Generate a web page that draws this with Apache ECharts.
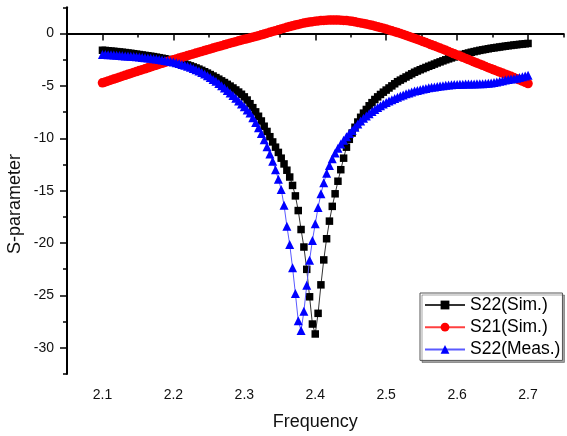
<!DOCTYPE html>
<html>
<head>
<meta charset="utf-8">
<script src="https://cdn.jsdelivr.net/npm/echarts@6/dist/echarts.min.js"></script>
<style>
html,body{margin:0;padding:0;background:#fff;}
#chart{width:567px;height:436px;}
</style>
</head>
<body>
<div id="chart"></div>
<script>
// Frequency sampling grid (GHz): 2.1 .. 2.7, step 0.004
var freqStart = 2.1;
var freqStep = 0.004;
var freqCount = 151;

var seriesNames = ['S22(Sim.)', 'S21(Sim.)', 'S22(Meas.)'];

var s22Sim = [
-1.60,-1.62,-1.65,-1.68,-1.70,-1.73,-1.76,-1.79,-1.82,-1.86,
-1.89,-1.93,-1.97,-2.01,-2.05,-2.09,-2.13,-2.17,-2.21,-2.26,
-2.31,-2.36,-2.41,-2.47,-2.53,-2.60,-2.67,-2.75,-2.83,-2.91,
-3.00,-3.09,-3.19,-3.29,-3.40,-3.52,-3.65,-3.78,-3.92,-4.06,
-4.21,-4.36,-4.52,-4.68,-4.85,-5.02,-5.20,-5.39,-5.59,-5.80,
-6.05,-6.35,-6.70,-7.08,-7.48,-7.90,-8.35,-8.85,-9.35,-9.85,
-10.35,-10.85,-11.35,-11.90,-12.45,-13.05,-13.70,-14.50,-15.50,-16.90,
-18.71,-20.38,-22.51,-25.13,-27.73,-28.68,-26.71,-23.99,-21.61,-19.59,
-17.91,-16.50,-15.30,-14.10,-13.00,-11.90,-10.85,-10.10,-9.50,-8.95,
-8.45,-8.00,-7.60,-7.25,-6.90,-6.60,-6.30,-6.05,-5.82,-5.60,
-5.40,-5.20,-5.00,-4.80,-4.60,-4.45,-4.30,-4.15,-4.00,-3.85,
-3.70,-3.58,-3.46,-3.35,-3.24,-3.13,-3.03,-2.92,-2.81,-2.71,
-2.61,-2.51,-2.42,-2.33,-2.24,-2.16,-2.08,-2.00,-1.93,-1.86,
-1.79,-1.73,-1.67,-1.61,-1.56,-1.51,-1.46,-1.41,-1.37,-1.33,
-1.29,-1.25,-1.21,-1.17,-1.14,-1.10,-1.07,-1.04,-1.01,-0.98,
-0.95
];

var s21Sim = [
-4.71,-4.62,-4.53,-4.44,-4.35,-4.26,-4.17,-4.08,-3.99,-3.90,
-3.81,-3.72,-3.63,-3.54,-3.46,-3.37,-3.28,-3.19,-3.10,-3.02,
-2.93,-2.85,-2.76,-2.68,-2.59,-2.51,-2.43,-2.35,-2.27,-2.19,
-2.11,-2.03,-1.95,-1.87,-1.79,-1.71,-1.63,-1.55,-1.47,-1.39,
-1.31,-1.23,-1.16,-1.08,-1.00,-0.93,-0.85,-0.78,-0.70,-0.63,
-0.56,-0.49,-0.42,-0.35,-0.28,-0.21,-0.13,-0.05,0.03,0.11,
0.19,0.27,0.35,0.43,0.51,0.59,0.66,0.73,0.80,0.87,
0.93,0.99,1.04,1.09,1.13,1.17,1.20,1.23,1.25,1.27,
1.28,1.285,1.285,1.28,1.27,1.25,1.23,1.20,1.16,1.11,
1.06,1.01,0.96,0.90,0.84,0.78,0.71,0.64,0.57,0.50,
0.42,0.34,0.26,0.17,0.09,0.00,-0.09,-0.19,-0.28,-0.38,
-0.47,-0.57,-0.67,-0.77,-0.87,-0.97,-1.08,-1.18,-1.29,-1.39,
-1.50,-1.61,-1.72,-1.83,-1.94,-2.05,-2.16,-2.27,-2.38,-2.49,
-2.60,-2.71,-2.82,-2.93,-3.04,-3.15,-3.26,-3.36,-3.47,-3.57,
-3.68,-3.78,-3.88,-3.99,-4.09,-4.20,-4.31,-4.42,-4.54,-4.66,
-4.78
];

var s22Meas = [
-2.00,-2.01,-2.03,-2.04,-2.06,-2.08,-2.10,-2.12,-2.14,-2.16,
-2.18,-2.20,-2.22,-2.25,-2.28,-2.31,-2.34,-2.37,-2.40,-2.44,
-2.48,-2.52,-2.57,-2.62,-2.67,-2.73,-2.80,-2.87,-2.95,-3.03,
-3.12,-3.22,-3.33,-3.45,-3.58,-3.72,-3.87,-4.03,-4.20,-4.38,
-4.57,-4.77,-4.98,-5.20,-5.43,-5.67,-5.92,-6.18,-6.45,-6.72,
-7.00,-7.30,-7.60,-8.05,-8.50,-9.00,-9.55,-10.15,-10.80,-11.50,
-12.20,-13.00,-13.90,-14.90,-16.40,-18.39,-20.13,-22.35,-24.81,-27.41,
-28.36,-26.52,-24.03,-21.65,-19.75,-18.17,-16.60,-15.30,-14.25,-13.35,
-12.60,-11.95,-11.40,-10.95,-10.55,-10.20,-9.85,-9.55,-9.25,-8.95,
-8.65,-8.35,-8.10,-7.88,-7.66,-7.45,-7.25,-7.06,-6.90,-6.74,
-6.59,-6.45,-6.32,-6.20,-6.08,-5.97,-5.86,-5.76,-5.67,-5.58,
-5.50,-5.43,-5.36,-5.30,-5.24,-5.19,-5.14,-5.10,-5.06,-5.02,
-4.98,-4.95,-4.92,-4.90,-4.88,-4.86,-4.85,-4.84,-4.83,-4.82,
-4.82,-4.81,-4.80,-4.80,-4.79,-4.77,-4.75,-4.72,-4.68,-4.63,
-4.57,-4.50,-4.44,-4.39,-4.35,-4.31,-4.26,-4.20,-4.13,-4.06,
-3.98
];

var xMajorTicks = [2.1, 2.2, 2.3, 2.4, 2.5, 2.6, 2.7];
var xMinorTicks = [2.05, 2.15, 2.25, 2.35, 2.45, 2.55, 2.65, 2.75];
var yMajorTicks = [-30, -25, -20, -15, -10, -5, 0];
var yMinorTicks = [-32.5, -27.5, -22.5, -17.5, -12.5, -7.5, -2.5, 2.5];

var freq = [];
for (var i = 0; i < freqCount; i++) freq.push(+(freqStart + freqStep * i).toFixed(3));
function pairs(vals) { return vals.map(function (v, i) { return [freq[i], v]; }); }

var FONT = 'Liberation Sans, Arial, sans-serif';
var chart = echarts.init(document.getElementById('chart'), null, {renderer: 'canvas'});
var axisLine = {show: true, lineStyle: {color: '#000', width: 2}};
chart.setOption({
  animation: false,
  backgroundColor: '#fff',
  grid: {left: 67, right: 3.5, top: 7.3, bottom: 60.2, containLabel: false},
  xAxis: [{
    type: 'value', min: 2.05, max: 2.75, position: 'bottom',
    axisLine: axisLine,
    axisTick: {show: true, length: 7, inside: false, customValues: xMajorTicks, lineStyle: {color: '#000', width: 1.5}},
    axisLabel: {show: true, customValues: xMajorTicks, margin: 14, color: '#111', fontSize: 14, fontFamily: FONT,
      formatter: function (v) { return v.toFixed(1); }},
    splitLine: {show: false},
    name: 'Frequency', nameLocation: 'middle', nameGap: 39,
    nameTextStyle: {color: '#111', fontSize: 18, fontFamily: FONT}
  }, {
    type: 'value', min: 2.05, max: 2.75, position: 'bottom', gridIndex: 0,
    axisLine: {show: false},
    axisTick: {show: true, length: 4, inside: false, customValues: xMinorTicks, lineStyle: {color: '#000', width: 1.5}},
    axisLabel: {show: false}, splitLine: {show: false}
  }],
  yAxis: [{
    type: 'value', min: -32.5, max: 2.5, position: 'left',
    axisLine: axisLine,
    axisTick: {show: true, length: 7, inside: false, customValues: yMajorTicks, lineStyle: {color: '#000', width: 1.5}},
    axisLabel: {show: true, customValues: yMajorTicks, margin: 13, color: '#111', fontSize: 14, fontFamily: FONT},
    splitLine: {show: false}
  }, {
    type: 'value', min: -32.5, max: 2.5, position: 'left', gridIndex: 0,
    axisLine: {show: false},
    axisTick: {show: true, length: 4, inside: false, customValues: yMinorTicks, lineStyle: {color: '#000', width: 1.5}},
    axisLabel: {show: false}, splitLine: {show: false}
  }],
  graphic: [{
    type: 'text', x: 15, y: 204, rotation: Math.PI / 2,
    style: {text: 'S-parameter', fill: '#111', font: '18px ' + FONT, align: 'center', verticalAlign: 'middle'}
  }],
  legend: {
    orient: 'vertical', left: 420, top: 293,
    padding: [3, 2, 2, 4], itemGap: 4.2, itemWidth: 40, itemHeight: 11,
    backgroundColor: '#fff', borderColor: '#555', borderWidth: 1,
    shadowColor: 'rgba(0,0,0,0.35)', shadowBlur: 0, shadowOffsetX: 2, shadowOffsetY: 2,
    textStyle: {color: '#000', fontSize: 17.5, lineHeight: 18, fontFamily: FONT},
    data: seriesNames
  },
  series: [{
    name: seriesNames[0], type: 'line', data: pairs(s22Sim), xAxisIndex: 0, yAxisIndex: 0,
    symbol: 'rect', symbolSize: 7.5, showAllSymbol: true,
    itemStyle: {color: '#000'}, lineStyle: {color: '#333', width: 1}, z: 2
  }, {
    name: seriesNames[1], type: 'line', data: pairs(s21Sim), xAxisIndex: 0, yAxisIndex: 0,
    symbol: 'circle', symbolSize: 9.5, showAllSymbol: true,
    itemStyle: {color: '#ff0000'}, lineStyle: {color: '#ff4040', width: 1}, z: 3
  }, {
    name: seriesNames[2], type: 'line', data: pairs(s22Meas), xAxisIndex: 0, yAxisIndex: 0,
    symbol: 'triangle', symbolSize: 9, showAllSymbol: true,
    itemStyle: {color: '#0000ff'}, lineStyle: {color: '#5a5aff', width: 1}, z: 4
  }]
});
</script>
</body>
</html>
